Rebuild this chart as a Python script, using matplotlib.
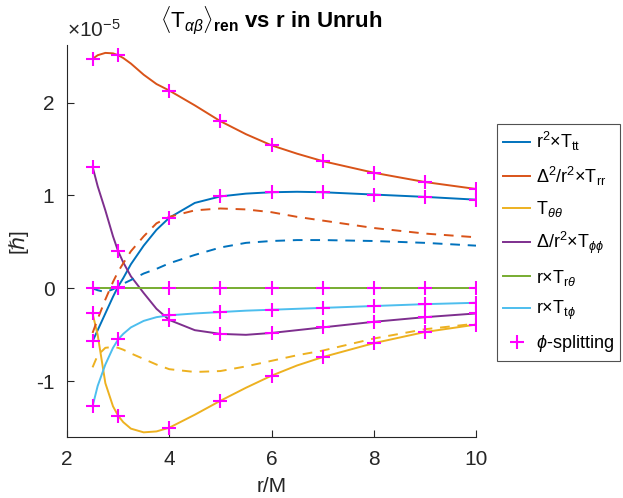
import matplotlib
matplotlib.use("Agg")
import matplotlib.pyplot as plt
import numpy as np

plt.rcParams['font.family'] = ['Liberation Sans', 'DejaVu Sans']
plt.rcParams['mathtext.fontset'] = 'custom'
plt.rcParams['mathtext.rm'] = 'Liberation Sans'
plt.rcParams['mathtext.it'] = 'Liberation Sans:italic'
plt.rcParams['mathtext.bf'] = 'Liberation Sans:bold'
plt.rcParams['axes.unicode_minus'] = False

# radial grid (r/M) and values in units of 1e-5
r = [2.5, 2.6, 2.75, 2.9, 3, 3.1, 3.25, 3.5, 3.75, 4, 4.5, 5, 5.5, 6, 6.5, 7, 8, 9, 10]

Ttt = [-0.57, -0.45, -0.27, -0.09, 0.02, 0.11, 0.26, 0.46, 0.63, 0.76, 0.92, 0.99, 1.02, 1.035, 1.04, 1.035, 1.01, 0.985, 0.955]
Trr = [2.47, 2.51, 2.535, 2.53, 2.51, 2.48, 2.42, 2.30, 2.20, 2.13, 1.97, 1.80, 1.66, 1.54, 1.45, 1.37, 1.245, 1.145, 1.07]
Tthth = [-0.27, -0.50, -1.02, -1.27, -1.37, -1.44, -1.51, -1.55, -1.54, -1.50, -1.36, -1.21, -1.07, -0.94, -0.83, -0.74, -0.59, -0.47, -0.39]
Tphph = [1.31, 1.10, 0.84, 0.56, 0.40, 0.28, 0.13, -0.05, -0.22, -0.34, -0.45, -0.49, -0.50, -0.48, -0.45, -0.42, -0.36, -0.31, -0.27]
Trth = [0.0] * 19
Ttph = [-1.27, -1.05, -0.82, -0.64, -0.55, -0.49, -0.42, -0.35, -0.31, -0.29, -0.27, -0.255, -0.24, -0.23, -0.22, -0.21, -0.19, -0.17, -0.155]

# dashed comparison curves
Ttt_d = [0.0, -0.02, -0.04, -0.01, 0.02, 0.05, 0.09, 0.16, 0.21, 0.27, 0.36, 0.44, 0.49, 0.51, 0.52, 0.52, 0.51, 0.49, 0.46]
Trr_d = [-0.48, -0.33, -0.12, 0.07, 0.18, 0.27, 0.40, 0.56, 0.70, 0.77, 0.84, 0.86, 0.85, 0.82, 0.77, 0.73, 0.65, 0.59, 0.55]
Tthth_d = [-0.85, -0.72, -0.64, -0.63, -0.64, -0.66, -0.70, -0.76, -0.82, -0.87, -0.90, -0.89, -0.84, -0.78, -0.72, -0.67, -0.54, -0.44, -0.38]

# phi-splitting sample radii
r_split = [2.5, 3, 4, 5, 6, 7, 8, 9, 10]

labels = [r'r$^2$$\times$T$_{\mathrm{tt}}$',
          r'$\Delta^2$/r$^2$$\times$T$_{\mathrm{rr}}$',
          r'T$_{\theta\theta}$',
          r'$\Delta$/r$^2$$\times$T$_{\phi\phi}$',
          r'r$\times$T$_{\mathrm{r}\theta}$',
          r'r$\times$T$_{\mathrm{t}\phi}$']
colors = ['#0072BD', '#D95319', '#EDB120', '#7E2F8E', '#77AC30', '#4DBEEE']

fig = plt.figure(figsize=(6.23, 4.98), dpi=100)
ax = fig.add_axes([67/623, 1-437/498, (476-67)/623, (437-45)/498])

series = [Ttt, Trr, Tthth, Tphph, Trth, Ttph]
handles = []
for s, c, lab in zip(series, colors, labels):
    h, = ax.plot(r, s, color=c, lw=1.4, label=lab)
    handles.append(h)

for s, c in zip([Ttt_d, Trr_d, Tthth_d], colors[:3]):
    ax.plot(r, s, color=c, lw=1.4, ls=(0, (5, 4)))

idx = [r.index(v) for v in r_split]
mh = None
for s in series:
    mh, = ax.plot(r_split, [s[i] for i in idx], ls='none', marker='+', color='#FF00FF',
                  ms=10, mew=1.5, label=r'$\phi$-splitting')
handles.append(mh)

ax.set_xlim(2, 10)
ax.set_ylim(-1.6, 2.62)
ax.set_xticks([2, 4, 6, 8, 10])
ax.set_yticks([-1, 0, 1, 2])
for sp in ['top', 'right']:
    ax.spines[sp].set_visible(False)
for sp in ['left', 'bottom']:
    ax.spines[sp].set_color('#262626')
ax.tick_params(direction='in', labelsize=15, colors='#262626', length=5, pad=9)

ax.set_xlabel('r/M', fontsize=15, color='#262626', labelpad=6)
ax.set_ylabel('[ℏ]', fontsize=15, color='#262626', labelpad=6)
ax.set_title(r'$\langle\mathrm{T}_{\alpha\beta}\rangle_{\mathbf{ren}}$ vs r in Unruh',
             fontsize=16, fontweight='bold', pad=12)
ax.text(0.0, 1.01, r'$\times$10$^{\mathrm{-5}}$', transform=ax.transAxes, fontsize=15,
        color='#262626', ha='left', va='bottom')

leg = fig.legend(handles=handles, loc='upper left', bbox_to_anchor=(497/623, 1-124/498),
                 fontsize=13, frameon=True, fancybox=False, edgecolor='#262626',
                 handlelength=1.5, handletextpad=0.3, labelspacing=0.62, borderpad=0.35,
                 borderaxespad=0, handleheight=0.7)
leg.get_frame().set_linewidth(0.8)

fig.savefig('out.png', dpi=100)
